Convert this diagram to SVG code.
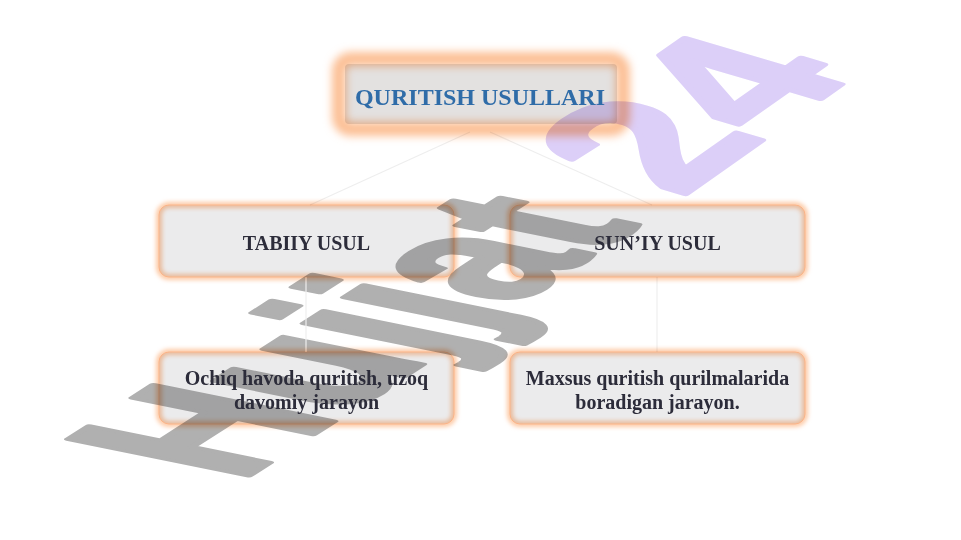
<svg xmlns="http://www.w3.org/2000/svg" width="961" height="540" viewBox="0 0 961 540">
  <defs>
    <filter id="glowBig" x="-20%" y="-50%" width="140%" height="200%">
      <feGaussianBlur stdDeviation="4.5"/>
    </filter>
    <filter id="glowSmall" x="-10%" y="-20%" width="120%" height="140%">
      <feGaussianBlur stdDeviation="2"/>
    </filter>
  </defs>
  <style>
    .glow { fill: none; stroke: #fdcaa6; stroke-width: 6; filter: url(#glowSmall); mix-blend-mode: multiply; }
    .box { fill: #ebebec; stroke: #fdd9bf; stroke-width: 1; mix-blend-mode: multiply; }
    .lbl { font-family: "Liberation Serif", "Times New Roman", serif; font-weight: bold; font-size: 20px; fill: #2c2c3a; text-anchor: middle; }
    .title { font-family: "Liberation Serif", "Times New Roman", serif; font-weight: bold; font-size: 24px; fill: #2f6ca8; text-anchor: middle; }
    .conn { stroke: #eeeeee; stroke-width: 1.2; fill: none; }
    .wm { font-family: "Liberation Sans", Arial, sans-serif; font-weight: bold; font-size: 100px; stroke-width: 3; stroke-linejoin: round; }
  </style>
  <rect x="0" y="0" width="961" height="540" fill="#ffffff"/>

  <g id="watermark">
    <text class="wm" fill="#b0b0b0" stroke="#b0b0b0" transform="matrix(1.45,-0.93,2.62,0.53,239,482)">Hujjat</text>
    <text class="wm" fill="#dccff8" stroke="#dccff8" transform="matrix(1.59,-1.12,2.28,0.675,680,198)">24</text>
  </g>

  <g id="connectors">
    <line class="conn" x1="470" y1="132" x2="310" y2="205"/>
    <line class="conn" x1="490" y1="132" x2="652" y2="205"/>
    <line class="conn" x1="306" y1="277" x2="306" y2="352"/>
    <line class="conn" x1="657" y1="277" x2="657" y2="352"/>
  </g>

  <g id="node-title">
    <rect x="345" y="64" width="272" height="60" rx="4" fill="#e3e1e0" style="mix-blend-mode:multiply"/>
    <rect x="339" y="59" width="284" height="70" rx="12" fill="none" stroke="#fcbf94" stroke-width="14" filter="url(#glowBig)" style="mix-blend-mode:multiply"/>
    <text class="title" x="480" y="105">QURITISH USULLARI</text>
  </g>

  <g id="node-tabiiy">
    <rect class="glow" x="159" y="205" width="295" height="72" rx="10"/>
    <rect class="box" x="159" y="205" width="295" height="72" rx="10"/>
    <text class="lbl" x="306.5" y="250">TABIIY USUL</text>
  </g>

  <g id="node-suniy">
    <rect class="glow" x="510" y="205" width="295" height="72" rx="10"/>
    <rect class="box" x="510" y="205" width="295" height="72" rx="10"/>
    <text class="lbl" x="657.5" y="250">SUN’IY USUL</text>
  </g>

  <g id="node-ochiq">
    <rect class="glow" x="159" y="352" width="295" height="72" rx="10"/>
    <rect class="box" x="159" y="352" width="295" height="72" rx="10"/>
    <text class="lbl" x="306.5" y="385">Ochiq havoda quritish, uzoq</text>
    <text class="lbl" x="306.5" y="409">davomiy jarayon</text>
  </g>

  <g id="node-maxsus">
    <rect class="glow" x="510" y="352" width="295" height="72" rx="10"/>
    <rect class="box" x="510" y="352" width="295" height="72" rx="10"/>
    <text class="lbl" x="657.5" y="385">Maxsus quritish qurilmalarida</text>
    <text class="lbl" x="657.5" y="409">boradigan jarayon.</text>
  </g>
</svg>
